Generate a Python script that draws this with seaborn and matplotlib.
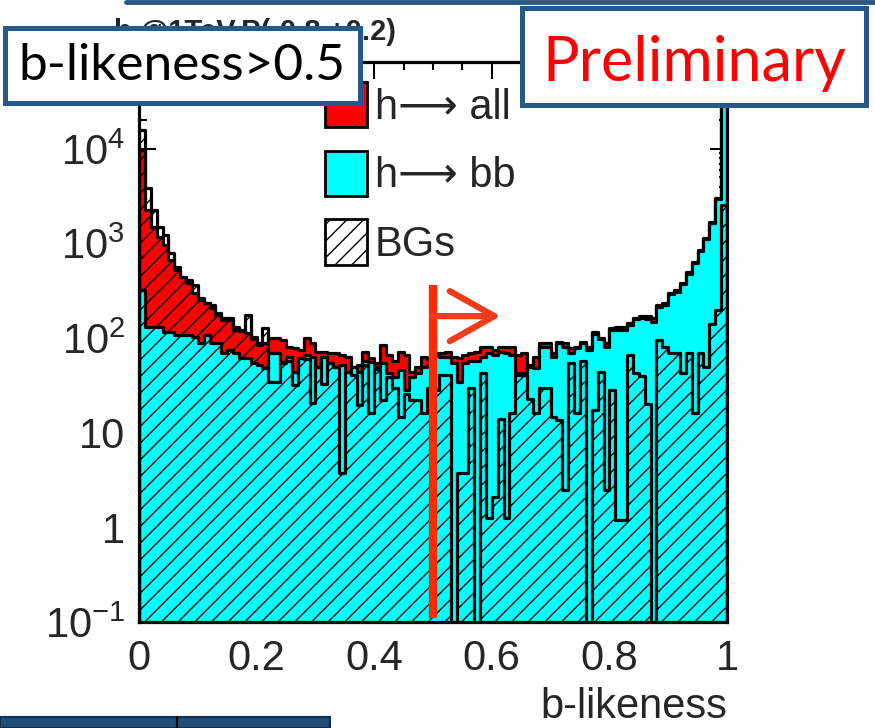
import numpy as np
import pandas as pd
import matplotlib
matplotlib.use("Agg")
import matplotlib.pyplot as plt
import seaborn as sns
from matplotlib.patches import Patch, Rectangle
from matplotlib.lines import Line2D
from matplotlib.ticker import MultipleLocator, LogLocator, NullFormatter

# 100 bins of b-likeness between 0 and 1
bin_edges = np.linspace(0.0, 1.0, 101)

# events per bin: h -> all, h -> bb, backgrounds
h_all = [9750, 2260, 1500, 1170, 964, 669, 524, 442, 382, 299,
         265, 234, 208, 184, 163, 163, 131, 122, 113, 102,
         89, 89, 100, 100, 95, 80, 78, 75, 100, 89,
         71, 71, 69, 69, 66, 63, 49, 52, 71, 61,
         54, 84, 66, 58, 71, 66, 44, 49, 63, 60,
         69, 69, 71, 63, 61, 66, 69, 71, 80, 80,
         75, 80, 80, 80, 66, 69, 52, 63, 89, 89,
         69, 91, 89, 78, 80, 91, 80, 116, 100, 89,
         128, 131, 131, 144, 163, 171, 171, 163, 223, 234,
         299, 322, 382, 499, 637, 853, 1143, 1690, 3030, 120000]

h_bb = [320, 131, 131, 131, 116, 116, 108, 108, 108, 102,
        89, 108, 89, 89, 69, 75, 69, 61, 61, 54,
        52, 48, 69, 69, 56, 63, 44, 61, 66, 63,
        49, 63, 54, 49, 52, 44, 49, 44, 58, 56,
        49, 54, 43, 39, 46, 28, 39, 43, 49, 52,
        66, 63, 63, 54, 34, 54, 58, 58, 63, 69,
        66, 71, 69, 66, 43, 43, 49, 48, 80, 80,
        63, 89, 80, 69, 78, 89, 75, 110, 98, 80,
        122, 122, 122, 137, 158, 163, 160, 150, 215, 225,
        290, 310, 370, 480, 620, 830, 1120, 1650, 2950, 120000]

bgs = [15900, 3870, 2260, 1500, 1230, 793, 564, 442, 411, 364,
       252, 234, 223, 175, 155, 155, 122, 118, 175, 98,
       85, 128, 34, 34, 55, 58, 32, 61, 60, 20.5,
       49, 33, 54, 49, 3.8, 44, 41, 19.5, 52, 16,
       47, 22, 39, 30, 14.6, 26, 22, 22, 16, 30,
       28, 41, 41, 0, 3.8, 3.8, 30, 0, 43, 1.25,
       2.1, 14, 1.25, 16, 41, 41, 23, 16, 30, 30,
       14.6, 13.6, 2.5, 54, 16, 58, 0, 17.3, 44, 2.5,
       28, 1.2, 1.2, 66, 43, 40, 20, 0, 95, 80,
       69, 69, 43, 69, 16, 69, 49, 140, 200, 2550]

legend_labels = ["h\u27f6 all", "h\u27f6 bb", "BGs"]
y_tick_values = [0.1, 1, 10, 100, 1000, 10000]
y_tick_labels = [r"$10^{-1}$", "1", "10", r"$10^{2}$", r"$10^{3}$", r"$10^{4}$"]
x_tick_values = [0, 0.2, 0.4, 0.6, 0.8, 1.0]
x_tick_labels = ["0", "0.2", "0.4", "0.6", "0.8", "1"]

sns.set_style("ticks")
plt.rcParams["font.family"] = ["Liberation Sans", "DejaVu Sans"]
plt.rcParams["mathtext.fontset"] = "custom"
plt.rcParams["mathtext.rm"] = "Liberation Sans"
plt.rcParams["mathtext.it"] = "Liberation Sans:italic"
plt.rcParams["mathtext.bf"] = "Liberation Sans:bold"
plt.rcParams["hatch.linewidth"] = 1.0

W, H = 875, 728
fig = plt.figure(figsize=(W / 100, H / 100), dpi=100)
fig.patch.set_facecolor("white")


def fx(px):
    return px / W


def fy(py):
    return 1 - py / H


ax = fig.add_axes([fx(139), fy(622), fx(727) - fx(139), fy(62) - fy(622)])

centers = 0.5 * (bin_edges[:-1] + bin_edges[1:])
df = pd.DataFrame({"b": centers, "all": h_all, "bb": h_bb, "bg": bgs})

common = dict(bins=bin_edges.tolist(), element="step", fill=True, linewidth=2.3,
              edgecolor="black", alpha=1, ax=ax)
sns.histplot(data=df, x="b", weights="all", color="#ff0000", **common)
sns.histplot(data=df, x="b", weights="bb", color="#00ffff", **common)
sns.histplot(data=df, x="b", weights="bg", color="white", facecolor="none",
             hatch="//", **common)

ax.set_yscale("log")
ax.set_xlim(0, 1)
ax.set_ylim(0.1, 8.3e4)
ax.set_axisbelow(True)

ax.set_yticks(y_tick_values, labels=y_tick_labels)
ax.yaxis.set_minor_locator(LogLocator(base=10, subs=np.arange(2, 10)))
ax.yaxis.set_minor_formatter(NullFormatter())
ax.set_xticks(x_tick_values, labels=x_tick_labels)
ax.xaxis.set_minor_locator(MultipleLocator(0.05))

ax.tick_params(which="both", direction="in", top=True, right=True,
               width=1.5, labelsize=30, color="black")
ax.tick_params(which="major", length=12)
ax.tick_params(which="minor", length=6)
ax.tick_params(axis="x", pad=12)
ax.tick_params(axis="y", pad=10)
for s in ax.spines.values():
    s.set_linewidth(2.3)
    s.set_color("black")

ax.set_ylabel("")
ax.set_xlabel("")
fig.text(fx(727), fy(718), "b-likeness", fontsize=30, ha="right", va="baseline")

# cut at b-likeness = 0.5 and the selected direction
cut_color = "#ff2a00"
ax.plot([0.5, 0.5], [0.109, 364], color=cut_color, lw=6, solid_capstyle="butt",
        zorder=6)
ax.annotate("", xy=(0.615, 171), xytext=(0.5, 171),
            arrowprops=dict(arrowstyle="->,head_length=0.8,head_width=0.45",
                            color="#f03c1c", lw=4.5, mutation_scale=40,
                            shrinkA=0, shrinkB=0),
            zorder=6)

# legend
handles = [
    Patch(facecolor="#ff0000", edgecolor="black", linewidth=2, label=legend_labels[0]),
    Patch(facecolor="#00ffff", edgecolor="black", linewidth=2, label=legend_labels[1]),
    Patch(facecolor="white", edgecolor="black", linewidth=2, hatch="//", label=legend_labels[2]),
]
fig.legend(handles=handles, loc="upper left", bbox_to_anchor=(fx(325), fy(82)),
           frameon=False, fontsize=30, handlelength=1.0, handleheight=1.3,
           handletextpad=0.2, labelspacing=0.55, borderaxespad=0, borderpad=0)

# title of the histogram, partly covered by the label boxes
fig.text(fx(396), fy(40), "h @1TeV,P(-0.8,+0.2)", fontsize=21, fontweight="bold",
         ha="right", va="baseline", zorder=1)

box_blue = "#25598c"
fig.add_artist(Rectangle((fx(5), fy(103)), fx(360) - fx(5), fy(28) - fy(103),
                         transform=fig.transFigure, facecolor="white",
                         edgecolor=box_blue, linewidth=3.6, zorder=10))
fig.text(fx(182), fy(66), "b-likeness>0.5", fontsize=37, family="Lato",
         ha="center", va="center", color="black", zorder=11)

fig.add_artist(Rectangle((fx(522), fy(105)), fx(866) - fx(522), fy(8) - fy(105),
                         transform=fig.transFigure, facecolor="white",
                         edgecolor=box_blue, linewidth=3.6, zorder=10))
fig.text(fx(694), fy(64), "Preliminary", fontsize=44, family="Lato",
         ha="center", va="center", color="#ff0000", zorder=11)

# edges of neighbouring slide elements
fig.add_artist(Line2D([fx(126), 1.0], [fy(2), fy(2)], color=box_blue, lw=3.5,
                      transform=fig.transFigure, zorder=10))
fig.add_artist(Rectangle((0, 0), fx(330), fy(717), transform=fig.transFigure,
                         facecolor="#1f4e79", edgecolor="#10304f", lw=1.5, zorder=10))
fig.add_artist(Line2D([fx(177), fx(177)], [0, fy(717)], color="black", lw=1.5,
                      transform=fig.transFigure, zorder=11))

fig.savefig("out.png", dpi=100, facecolor="white")
